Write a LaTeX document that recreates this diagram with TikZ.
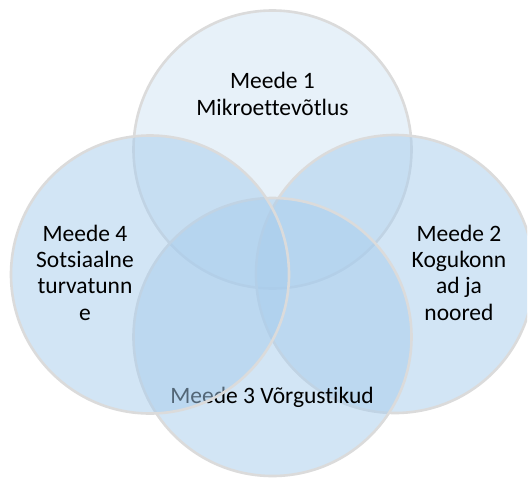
\documentclass[tikz,border=0pt]{standalone}
\usepackage{fontspec}
\setmainfont{Carlito}[Ligatures={NoCommon}]
\definecolor{outlinegray}{RGB}{219,219,219}
\definecolor{topfill}{RGB}{209,229,245}
\definecolor{vennfill}{RGB}{167,205,237}
\begin{document}
\begin{tikzpicture}[x=1pt,y=-1pt,
  venn/.style={circle, minimum size=278pt, inner sep=0pt, draw=outlinegray, line width=2.6pt, fill opacity=0.5},
  lbl/.style={anchor=base, align=center, inner sep=0pt, text=black, font=\fontsize{23.5}{26.3}\selectfont}]
\useasboundingbox (0,0) rectangle (529,477);
\fill[white] (0,0) rectangle (529,477);
\begin{scope}
\clip (0,0) rectangle (527,477);
\node[venn, fill=topfill] (c1) at (272.5,149.5) {};
\node[lbl] (t1) at (272.5,115) {Meede 1\\Mikroettevõtlus};
\node[venn, fill=vennfill] (c2) at (395,274) {};
\node[lbl] (t2) at (459,320) {Meede 2\\Kogukonn\\ad ja\\noored};
\node[venn, fill=vennfill] (c3) at (272.5,337) {};
\node[lbl] (t3) at (272,403) {Meede 3 Võrgustikud};
\node[venn, fill=vennfill] (c4) at (150,274.5) {};
\node[lbl] (t4) at (85,320) {Meede 4\\Sotsiaalne\\turvatunn\\e};
\end{scope}
\end{tikzpicture}
\end{document}
